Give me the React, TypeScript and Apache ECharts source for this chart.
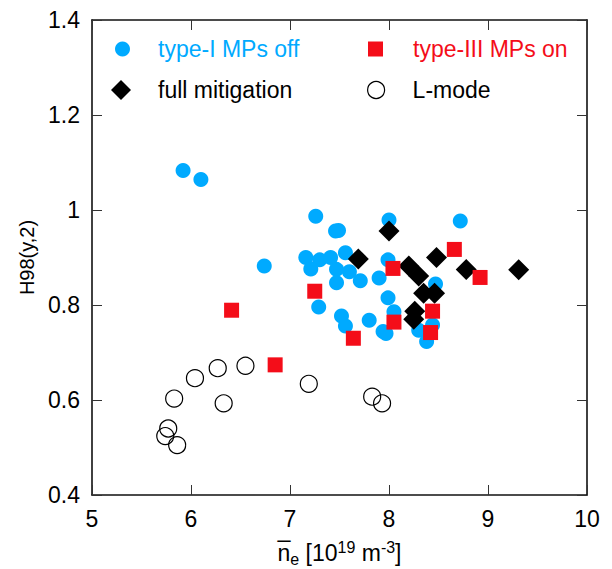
import React, { useEffect, useRef } from "react";
import * as echarts from "echarts";

const typeIOffX = [5.92, 6.10, 6.74, 7.26, 8.00, 8.72, 7.46, 7.49, 7.16, 7.30, 7.41, 7.56, 7.21, 7.47, 7.60, 7.47, 7.71, 7.90, 7.99, 8.47, 7.99, 7.29, 8.05, 7.52, 7.56, 7.80, 7.94, 7.97, 8.30, 8.44, 8.38];
const typeIOffY = [1.083, 1.064, 0.882, 0.987, 0.979, 0.977, 0.956, 0.957, 0.900, 0.895, 0.900, 0.910, 0.876, 0.875, 0.870, 0.847, 0.851, 0.857, 0.895, 0.844, 0.815, 0.796, 0.786, 0.777, 0.756, 0.768, 0.744, 0.740, 0.747, 0.758, 0.723];

const typeIIIOnX = [6.41, 6.85, 7.25, 8.04, 8.66, 8.92, 8.44, 8.05, 7.64, 8.42];
const typeIIIOnY = [0.789, 0.674, 0.829, 0.877, 0.917, 0.858, 0.787, 0.764, 0.730, 0.742];

const fullMitX = [8.00, 7.69, 8.20, 8.30, 8.48, 8.78, 9.31, 8.35, 8.46, 8.26, 8.25];
const fullMitY = [0.956, 0.897, 0.882, 0.861, 0.900, 0.875, 0.874, 0.825, 0.825, 0.787, 0.770];

const lModeX = [5.83, 6.04, 6.27, 6.55, 6.33, 5.77, 5.74, 5.86, 7.19, 7.83, 7.93];
const lModeY = [0.603, 0.646, 0.667, 0.672, 0.593, 0.540, 0.524, 0.505, 0.634, 0.607, 0.593];

const xTicks = { min: 5, max: 10, interval: 1 };
const yTicks = { min: 0.4, max: 1.4, interval: 0.2 };

const names = ["type-I MPs off", "type-III MPs on", "full mitigation", "L-mode"];

const BLUE = "#00aaff";
const RED = "#f40d19";
const FONT = "Liberation Sans";

const zip = (xs: number[], ys: number[]) => xs.map((x, i) => [x, ys[i]]);

export default function App() {
  const ref = useRef<HTMLDivElement>(null);
  useEffect(() => {
    if (!ref.current) return;
    const chart = echarts.init(ref.current, undefined, { renderer: "svg" });
    const axisLine = { show: true, lineStyle: { color: "#111", width: 1.6 } };
    const axisTick = { show: true, inside: true, length: 10, lineStyle: { color: "#333", width: 1 } };
    const mkLegend = (name: string, left: number, icon: string, size: number, color: string, pad: number, itemStyle?: any) => ({
      show: true,
      left,
      top: 36,
      padding: 0,
      selectedMode: false,
      itemWidth: size,
      itemHeight: size,
      icon,
      data: [{ name, itemStyle, textStyle: { color } }],
      textStyle: { fontFamily: FONT, fontSize: 23, lineHeight: 26, color, padding: [0, 0, 0, pad] },
    });
    chart.setOption({
      animation: false,
      backgroundColor: "#fff",
      grid: { left: 92, right: 25, top: 20, bottom: 74, containLabel: false, outerBoundsMode: "none" },
      legend: [
        mkLegend(names[0], 115, "circle", 15, BLUE, 23, { color: BLUE }),
        mkLegend(names[1], 368, "rect", 15, RED, 25, { color: RED }),
        { ...mkLegend(names[2], 111, "diamond", 20, "#000", 22, { color: "#000" }), top: 77 },
        { ...mkLegend(names[3], 367, "circle", 17, "#000", 23, { color: "#fff", borderColor: "#000", borderWidth: 1.2 }), top: 77 },
      ],
      xAxis: [
        {
          type: "value",
          position: "bottom",
          ...xTicks,
          axisLine,
          axisTick,
          splitLine: { show: false },
          axisLabel: { fontFamily: FONT, fontSize: 23, color: "#000", margin: 12 },
          name: "n\u0305{sub|e} [10{sup|19} m{sup|-3}]",
          nameLocation: "middle",
          nameGap: 44,
          nameTextStyle: {
            fontFamily: FONT,
            fontSize: 23,
            color: "#000",
            rich: {
              sub: { fontFamily: FONT, fontSize: 16, color: "#000", verticalAlign: "bottom", padding: [12, 0, 0, 0] },
              sup: { fontFamily: FONT, fontSize: 16, color: "#000", verticalAlign: "top", padding: [0, 0, 10, 0] },
            },
          },
        },
        {
          type: "value",
          position: "top",
          ...xTicks,
          axisLine,
          axisTick,
          splitLine: { show: false },
          axisLabel: { show: false },
        },
      ],
      yAxis: [
        {
          type: "value",
          position: "left",
          ...yTicks,
          axisLine,
          axisTick,
          splitLine: { show: false },
          axisLabel: { fontFamily: FONT, fontSize: 23, color: "#000", margin: 12 },
          name: "H98(y,2)",
          nameLocation: "middle",
          nameRotate: 90,
          nameGap: 52,
          nameTextStyle: { fontFamily: FONT, fontSize: 20, color: "#000" },
        },
        {
          type: "value",
          position: "right",
          ...yTicks,
          axisLine,
          axisTick,
          splitLine: { show: false },
          axisLabel: { show: false },
        },
      ],
      series: [
        {
          name: names[0],
          type: "scatter",
          symbol: "circle",
          symbolSize: 15,
          itemStyle: { color: BLUE, opacity: 1 },
          data: zip(typeIOffX, typeIOffY),
          z: 2,
        },
        {
          name: names[2],
          type: "scatter",
          symbol: "diamond",
          symbolSize: 21,
          itemStyle: { color: "#000", opacity: 1 },
          data: zip(fullMitX, fullMitY),
          z: 3,
        },
        {
          name: names[1],
          type: "scatter",
          symbol: "rect",
          symbolSize: 15,
          itemStyle: { color: RED, opacity: 1 },
          data: zip(typeIIIOnX, typeIIIOnY),
          z: 4,
        },
        {
          name: names[3],
          type: "scatter",
          symbol: "circle",
          symbolSize: 17,
          itemStyle: { color: "rgba(255,255,255,0)", borderColor: "#000", borderWidth: 1.2, opacity: 1 },
          data: zip(lModeX, lModeY),
          z: 5,
        },
      ],
    });
    return () => chart.dispose();
  }, []);
  return <div ref={ref} style={{ width: 612, height: 569, position: "absolute", left: 0, top: 0 }} />;
}
